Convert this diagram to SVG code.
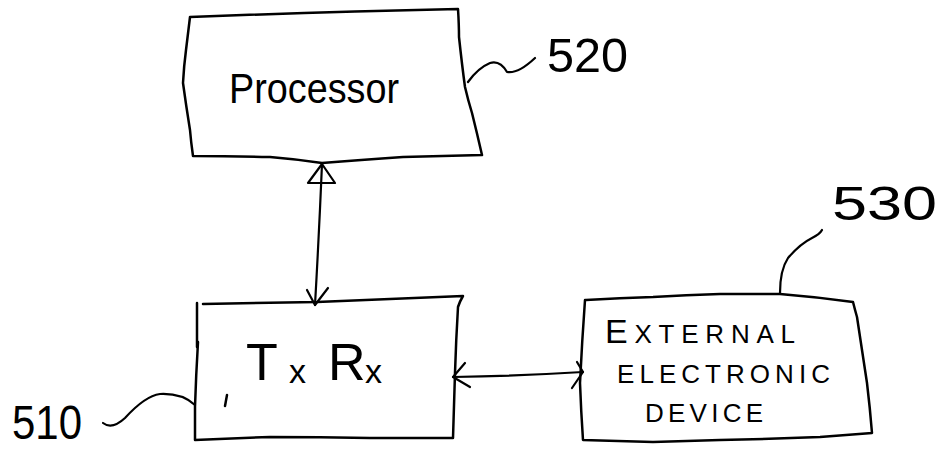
<svg xmlns="http://www.w3.org/2000/svg" width="948" height="449" viewBox="0 0 948 449">
  <style>
    .edge { fill: none; stroke: #000; stroke-width: 2.5; stroke-linecap: round; stroke-linejoin: round; }
    .wire { fill: none; stroke: #000; stroke-width: 2.2; stroke-linecap: round; stroke-linejoin: round; }
    .lbl { font-family: "Liberation Sans", Arial, sans-serif; fill: #000; }
    .ref { font-family: "Liberation Sans", Arial, sans-serif; fill: #000; font-size: 48px; }
  </style>
  <rect width="948" height="449" fill="#fff"/>

  <!-- Processor block -->
  <g id="processor">
    <path class="edge" d="M190,17 Q320,12 458,9 Q459,25 459,37 Q462,65 465,87 Q468,100 472,113 Q477,133 482,155 Q440,156 403,157 Q360,160 322,163 Q295,159 270,157 Q230,156 193,156 Q191,142 190,130 Q186,105 183,83 Q184,65 186,50 Q188,33 190,17 Z"/>
    <text class="lbl" x="229" y="103" font-size="42" textLength="170" lengthAdjust="spacingAndGlyphs">Processor</text>
  </g>

  <!-- TxRx block -->
  <g id="txrx">
    <path class="edge" d="M203,304 Q260,303 317,302 Q390,299 463,296 Q460,301 458,307 Q456,340 455,373 Q454,405 453,438 Q410,438 370,438 Q320,437 270,437 Q232,438 195,440 Q195,424 195,407 Q196,375 198,342"/>
    <path class="edge" d="M197,303 L197,347"/>
    <path class="edge" d="M227,395 L225,406"/>
    <text class="lbl" y="380" font-size="52"><tspan x="246">T</tspan><tspan x="289" y="383" font-size="34">x</tspan><tspan x="328" y="380">R</tspan><tspan x="365" y="383" font-size="34">x</tspan></text>
  </g>

  <!-- External electronic device block -->
  <g id="external">
    <path class="edge" d="M586,300 Q620,298 653,297 Q686,295 720,294 Q750,294 780,294 Q817,297 853,302 Q855,310 857,317 Q862,350 867,383 Q870,408 872,433 Q846,435 820,437 Q770,439 720,440 Q686,441 653,442 Q618,441 583,440 Q581,411 580,383 Q582,341 585,300 Z"/>
    <text class="lbl" x="605" y="343" textLength="190" lengthAdjust="spacing"><tspan font-size="34">E</tspan><tspan font-size="26">XTERNAL</tspan></text>
    <text class="lbl" x="617" y="383" font-size="26" textLength="213" lengthAdjust="spacing">ELECTRONIC</text>
    <text class="lbl" x="645" y="422" font-size="26" textLength="118" lengthAdjust="spacing">DEVICE</text>
  </g>

  <!-- Reference numerals and leader lines -->
  <g id="ref-520">
    <path class="wire" d="M468,82 Q478,68 490,63 Q500,60 507,72 Q518,74 535,58"/>
    <text class="ref" x="547" y="72" font-size="50" textLength="81" lengthAdjust="spacingAndGlyphs">520</text>
  </g>
  <g id="ref-530">
    <path class="wire" d="M780,293 Q780,270 788,258 Q800,244 812,238 Q820,234 822,230"/>
    <text class="ref" x="832" y="220" font-size="46" textLength="105" lengthAdjust="spacingAndGlyphs">530</text>
  </g>
  <g id="ref-510">
    <path class="wire" d="M103,423 Q112,430 125,418 Q145,396 160,394 Q182,393 195,405"/>
    <text class="ref" x="12" y="439" font-size="40" textLength="70" lengthAdjust="spacingAndGlyphs">510</text>
  </g>

  <!-- Connectors -->
  <g id="connectors">
    <!-- processor <-> txrx -->
    <path class="wire" d="M322,164 Q319,235 315,305"/>
    <path class="wire" d="M308,183 L322,164 L335,183 Z"/>
    <path class="wire" d="M307,290 L315,305 L328,288"/>
    <!-- txrx <-> external device -->
    <path class="wire" d="M453,377 Q518,376 583,372"/>
    <path class="wire" d="M465,363 L453,377 L470,387"/>
    <path class="wire" d="M577,362 L583,372 L572,388"/>
  </g>
</svg>
